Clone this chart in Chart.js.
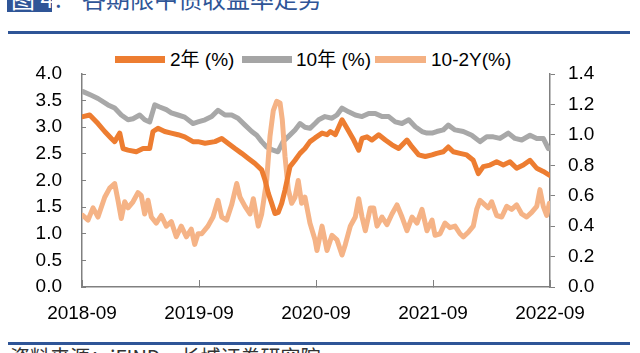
<!DOCTYPE html>
<html>
<head>
<meta charset="utf-8">
<script src="https://cdn.jsdelivr.net/npm/chart.js@4/dist/chart.umd.min.js"></script>
<style>
  html,body{margin:0;padding:0;background:#fff;}
  #wrap{position:relative;width:640px;height:353px;overflow:hidden;background:#fff;font-family:"Liberation Sans","Noto Sans CJK SC",sans-serif;}
  #cv{position:absolute;left:0;top:0;}
  .abs{position:absolute;white-space:nowrap;}
  .lg-box{position:absolute;height:7px;}
  .lg-txt{position:absolute;font-size:19px;line-height:19px;color:#000;font-family:"Liberation Sans","Noto Sans CJK SC",sans-serif;}
</style>
</head>
<body>
<div id="wrap">
  <div class="abs" style="left:7px;top:-13px;width:45px;height:25px;background:#2F5597;"></div>
  <div class="abs" style="left:11px;top:-14px;font-size:24px;line-height:24px;color:#fff;font-family:'Noto Sans CJK SC';">图 4</div>
  <div class="abs" style="left:55px;top:-14px;font-size:24px;line-height:24px;color:#2F5597;font-family:'Noto Sans CJK SC';">:</div>
  <div class="abs" style="left:82px;top:-14px;font-size:24px;line-height:24px;color:#2F5597;font-family:'Noto Sans CJK SC';">各期限中债收益率走势</div>
  <div class="abs" style="left:8px;top:31px;width:622px;height:3px;background:#2F5597;"></div>

  <div class="lg-box" style="left:115px;top:56px;width:50px;background:#ED7D31;"></div>
  <div class="lg-txt" style="left:170px;top:50px;" id="lg0"></div>
  <div class="lg-box" style="left:242px;top:56px;width:50px;background:#A5A5A5;"></div>
  <div class="lg-txt" style="left:296px;top:50px;" id="lg1"></div>
  <div class="lg-box" style="left:375px;top:56px;width:51px;background:#F4B183;"></div>
  <div class="lg-txt" style="left:431px;top:50px;" id="lg2"></div>

  <div class="abs" style="left:8px;top:342px;width:622px;height:3px;background:#2F5597;"></div>
  <div class="abs" style="left:10px;top:347px;font-size:20px;line-height:20px;color:#333;font-family:'Noto Sans CJK SC';">资料来源：iFIND，长城证券研究院</div>

  <canvas id="cv" width="640" height="353"></canvas>
</div>
<script>
// ---- data (months since 2018-09) ----
const seriesNames = ['2年 (%)', '10年 (%)', '10-2Y(%)'];
const xTickLabels = ['2018-09', '2019-09', '2020-09', '2021-09', '2022-09'];

const m2Y = [0.10,0.79,1.64,2.33,3.01,3.35,3.87,4.21,4.72,5.57,6.26,6.94,7.28,7.79,8.48,9.16,9.85,10.53,11.38,11.90,
  12.62,13.64,14.33,14.97,15.69,16.38,17.03,17.74,18.43,18.77,19.11,19.46,19.79,20.13,20.48,20.82,21.33,21.85,22.36,22.87,
  23.38,23.90,24.62,25.13,25.47,25.98,26.67,27.18,27.87,28.38,28.72,29.23,29.74,30.43,31.11,31.79,32.48,33.33,33.85,34.53,
  35.21,35.90,36.38,37.06,37.57,38.08,38.77,39.46,40.13,40.65,41.16,41.85,42.53,43.21,43.90,44.58,45.26,45.95,46.64,47.31,47.93];
const v2Y = [3.20,3.23,3.07,2.92,2.79,2.73,2.89,2.60,2.57,2.54,2.60,2.60,2.92,2.98,2.92,2.89,2.86,2.82,2.73,2.73,
  2.70,2.73,2.79,2.70,2.60,2.51,2.42,2.32,2.20,2.01,1.76,1.57,1.38,1.40,1.57,1.82,2.26,2.38,2.51,2.60,
  2.73,2.80,2.89,2.86,2.92,2.86,3.14,2.98,2.76,2.57,2.79,2.82,2.76,2.86,2.76,2.67,2.60,2.76,2.63,2.48,
  2.45,2.48,2.51,2.54,2.63,2.54,2.51,2.48,2.38,2.13,2.26,2.29,2.35,2.29,2.35,2.23,2.29,2.38,2.23,2.17,2.10];

const m10Y = [0.10,0.95,1.64,2.67,3.35,4.03,4.72,5.23,5.92,6.43,6.94,7.46,7.97,8.65,9.16,9.85,10.53,11.38,11.90,
  12.62,13.30,13.95,14.67,15.35,16.00,16.72,17.41,17.92,18.43,18.94,19.59,20.10,20.62,21.13,21.85,22.36,22.87,23.38,23.90,
  24.28,24.92,25.64,26.15,26.67,27.35,28.03,28.72,29.41,30.08,30.77,31.46,32.13,32.82,33.51,34.18,34.87,35.38,35.90,
  36.38,37.06,37.57,38.26,39.11,39.97,40.82,41.51,42.18,42.87,43.72,44.41,45.10,45.95,46.64,47.31,47.83];
const v10Y = [3.67,3.60,3.54,3.42,3.36,3.23,3.14,3.16,3.23,3.14,3.10,3.42,3.38,3.33,3.27,3.23,3.19,3.07,3.10,
  3.14,3.20,3.32,3.23,3.23,3.17,3.04,2.92,2.85,2.73,2.63,2.57,2.54,2.73,2.82,2.95,3.07,3.00,2.98,3.07,
  3.14,3.20,3.17,3.23,3.36,3.29,3.23,3.20,3.26,3.26,3.20,3.20,3.10,3.07,3.14,3.01,2.92,2.89,2.89,
  2.92,2.95,3.04,2.95,2.92,2.85,2.73,2.82,2.82,2.79,2.89,2.79,2.76,2.85,2.79,2.79,2.60];

const mSpr = [0.10,0.62,1.13,1.64,2.33,2.84,3.35,3.69,4.03,4.38,4.72,5.23,5.74,6.08,6.43,6.77,7.11,7.62,8.13,8.65,
  9.16,9.67,10.18,10.70,11.21,11.56,11.90,12.28,12.92,13.44,13.95,14.33,14.84,15.35,15.87,16.21,16.72,17.23,17.57,18.08,
  18.43,18.94,19.28,19.62,19.97,20.31,20.54,20.82,21.16,21.51,21.85,22.18,22.53,22.87,23.38,23.90,24.10,24.62,25.13,25.64,
  26.15,26.67,27.01,27.52,28.03,28.38,28.72,29.06,29.57,29.92,30.26,30.77,31.28,31.79,32.31,32.82,33.33,33.85,34.36,34.87,
  35.38,35.90,36.21,36.72,37.23,37.74,38.26,38.77,39.11,39.62,40.13,40.48,40.82,41.16,41.67,42.02,42.53,43.05,43.56,44.07,
  44.58,45.10,45.61,46.12,46.64,46.97,47.31,47.66,47.93];
const vSpr = [0.47,0.44,0.52,0.46,0.59,0.65,0.68,0.57,0.45,0.56,0.52,0.56,0.62,0.60,0.48,0.57,0.46,0.42,0.47,0.40,
  0.43,0.33,0.40,0.33,0.38,0.28,0.35,0.35,0.40,0.46,0.57,0.46,0.44,0.54,0.68,0.59,0.53,0.48,0.58,0.40,
  0.48,0.70,0.99,1.16,1.22,1.21,1.10,0.86,0.64,0.55,0.59,0.70,0.55,0.59,0.42,0.31,0.24,0.40,0.24,0.34,
  0.31,0.21,0.28,0.40,0.46,0.58,0.46,0.37,0.52,0.52,0.40,0.46,0.41,0.48,0.54,0.46,0.37,0.46,0.42,0.51,
  0.37,0.44,0.34,0.35,0.42,0.39,0.40,0.35,0.33,0.36,0.40,0.51,0.57,0.55,0.52,0.56,0.47,0.46,0.53,0.51,
  0.54,0.48,0.46,0.49,0.53,0.64,0.53,0.47,0.55];

const colors = ['#ED7D31', '#A8A8A8', '#F5B386'];
seriesNames.forEach((n, i) => { document.getElementById('lg' + i).textContent = n; });

const pts = (xs, ys) => xs.map((x, i) => ({ x: x, y: ys[i] }));
const lineStyle = { pointRadius: 0, borderWidth: 5, tension: 0, borderJoinStyle: 'round', borderCapStyle: 'round', fill: false };

new Chart(document.getElementById('cv'), {
  type: 'line',
  data: {
    datasets: [
      Object.assign({ label: seriesNames[0], data: pts(m2Y, v2Y), borderColor: colors[0], yAxisID: 'y', order: 0 }, lineStyle),
      Object.assign({ label: seriesNames[1], data: pts(m10Y, v10Y), borderColor: colors[1], yAxisID: 'y', order: 2 }, lineStyle),
      Object.assign({ label: seriesNames[2], data: pts(mSpr, vSpr), borderColor: colors[2], yAxisID: 'y2', order: 1 }, lineStyle)
    ]
  },
  options: {
    responsive: false,
    animation: false,
    events: [],
    layout: { padding: { top: 74, left: 0, right: 0, bottom: 0 } },
    plugins: { legend: { display: false }, tooltip: { enabled: false } },
    scales: {
      x: {
        type: 'linear', min: 0, max: 48,
        afterFit: s => { s.height = 66; },
        afterBuildTicks: s => { s.ticks = xTickLabels.map((_, i) => ({ value: i * 12 })); },
        ticks: { callback: (v) => xTickLabels[Math.round(v / 12)], color: '#000', font: { family: 'Liberation Sans', size: 19 }, padding: 22, maxRotation: 0, autoSkip: false },
        grid: { drawOnChartArea: false, tickLength: -7, color: '#808080', lineWidth: 1 },
        border: { display: true, color: '#808080', width: 1.5 }
      },
      y: {
        position: 'left', min: 0, max: 4,
        afterFit: s => { s.width = 82; },
        ticks: { stepSize: 0.5, callback: v => v.toFixed(1), color: '#000', font: { family: 'Liberation Sans', size: 19 }, padding: 24 },
        grid: { drawOnChartArea: false, tickLength: -4, color: '#808080' },
        border: { display: true, color: '#808080', width: 1.5 }
      },
      y2: {
        position: 'right', min: 0, max: 1.4,
        afterFit: s => { s.width = 90; },
        ticks: { stepSize: 0.2, callback: v => v.toFixed(1), color: '#000', font: { family: 'Liberation Sans', size: 19 }, padding: 13 },
        grid: { drawOnChartArea: false, tickLength: 5, color: '#808080' },
        border: { display: true, color: '#808080', width: 1.5 }
      }
    }
  }
});
</script>
</body>
</html>
